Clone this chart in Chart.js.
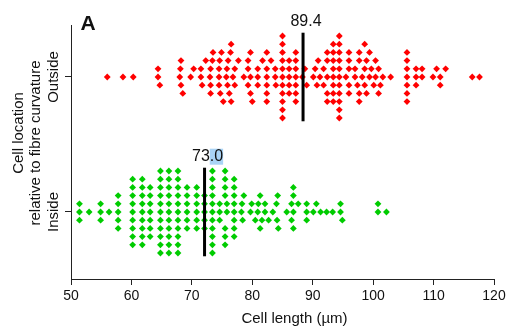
<!DOCTYPE html>
<html>
<head>
<meta charset="utf-8">
<script src="https://cdn.jsdelivr.net/npm/chart.js@4.4.1/dist/chart.umd.min.js"></script>
<style>
  html, body { margin: 0; padding: 0; background: #fff; }
</style>
</head>
<body>
<canvas id="chart" width="532" height="328"></canvas>
<script>
const categories = ["Outside", "Inside"];

const outsideLengths = [
  56.0, 58.6, 60.3,
  64.4, 64.4, 64.7,
  68.0, 68.1, 68.2, 68.2, 68.5,
  69.8, 70.3,
  71.5, 71.5, 71.7, 72.3,
  73.0, 73.1, 73.1, 73.1, 73.4, 73.5,
  74.5, 74.5, 74.5, 74.6, 74.7, 74.9, 75.2,
  75.7, 75.8, 75.9, 76.0, 76.2, 76.4, 76.5, 76.5, 76.8,
  77.1, 77.1, 77.7,
  78.6, 79.3, 79.3, 79.3, 79.7, 79.7, 79.7, 80.0,
  80.9, 80.9, 80.9, 81.7,
  82.4, 82.4, 82.4, 82.4, 82.4, 82.4, 83.1, 83.8, 83.8, 83.9,
  85.0, 85.0, 85.0, 85.0, 85.0, 85.0, 85.0, 85.0, 85.0, 85.0, 85.0,
  86.1, 86.1, 86.1, 86.1, 86.1,
  87.2, 87.2, 87.2, 87.2, 87.2, 87.2, 87.2,
  88.3, 88.7, 89.0,
  90.1, 90.4, 90.7, 90.9, 91.2, 91.8, 91.8,
  92.4, 92.4, 92.4, 92.4, 92.4,
  93.4, 93.4, 93.4, 93.4, 93.4, 93.4, 93.4, 93.4,
  94.4, 94.4, 94.4, 94.4, 94.4, 94.4, 94.4, 94.4, 94.4, 94.4, 94.4,
  95.5, 96.0, 96.0, 96.0, 96.0, 96.0,
  97.0, 97.0, 97.4, 97.7, 97.7, 97.7, 97.7, 98.2,
  98.6, 98.6, 98.6, 98.9, 98.9, 99.4, 99.4, 99.7,
  100.1, 100.4, 100.4, 100.9, 100.9, 101.2, 101.6, 102.9,
  105.6, 105.6, 105.6, 105.6, 105.6, 105.6, 105.6,
  107.1, 107.1, 107.1, 108.1, 108.1,
  109.9, 110.5, 111.1, 111.1, 112.0, 116.4, 117.6
];

const insideLengths = [
  51.4, 51.4, 51.4, 53.0, 54.9, 54.9, 54.9, 56.3,
  57.8, 57.8, 57.8, 57.8, 57.8,
  60.2, 60.2, 60.2, 60.2, 60.2, 60.2, 60.2, 60.2, 60.2,
  61.8, 61.8, 61.8, 61.8, 61.8, 61.8, 61.8, 61.8, 61.8,
  63.1, 63.1, 63.1, 63.1, 63.1, 63.1, 63.1,
  64.8, 64.8, 64.8, 64.8, 64.8, 64.8, 64.8, 64.8, 64.8, 64.8, 64.8,
  66.2, 66.2, 66.2, 66.2, 66.2, 66.2, 66.2, 66.2, 66.2, 66.2, 66.2,
  67.7, 67.7, 67.7, 67.7, 67.7, 67.7, 67.7, 67.7, 67.7, 67.7, 67.7,
  69.2, 69.2, 69.2, 69.2, 69.2, 69.2,
  70.8, 70.8, 70.8, 70.8, 70.8, 70.8,
  72.1, 72.1, 72.1, 72.1, 72.1,
  73.4, 73.4, 73.4, 73.4, 73.4, 73.4, 73.4, 73.4, 73.4, 73.4, 73.4,
  74.6, 74.6, 74.6,
  75.5, 75.5, 75.5, 75.5, 75.5, 75.5, 75.5, 75.8, 75.8,
  77.0, 77.0, 77.0, 77.0, 77.0, 77.0, 77.0, 77.0,
  78.2, 78.3, 78.4, 78.6, 79.7, 79.9,
  80.5, 80.9, 81.0, 81.3, 81.3, 81.6,
  82.1, 82.1, 82.7, 83.4, 84.0, 84.1, 84.2, 84.3,
  85.7, 86.5, 86.5, 86.8, 86.8, 86.8, 86.8, 87.6,
  89.0, 89.0, 89.0, 90.1, 90.6, 91.3, 92.3, 93.3,
  94.6, 94.6, 94.9, 100.8, 100.8, 102.2
];

// Black bars and the numbers printed above them
const markerValues = [88.4, 72.1];
const markerLabels = ["89.4", "73.0"];

const xMin = 50;
const xMax = 120;
const xStep = 10;

const colors = ["#ff0000", "#00cc00"];
const textColor = "#111";
const fontFamily = "'Liberation Sans', Arial, Helvetica, sans-serif";

// y is measured in swarm rows; each category sits on its own centre row
const categoryY = [16.46, 0];
const minGap = 1.0;       // closest two cells may sit in one row (µm)
const barHalf = 5.4;      // half height of the black bar, in rows

// Greedy beeswarm: each cell goes to the nearest free row (0, up, down, ...)
const swarm = (values, centre) => {
  const rows = new Map();
  return [...values].sort((a, b) => a - b).map((v) => {
    for (let k = 0; ; k++) {
      const row = k === 0 ? 0 : (k % 2 === 1 ? (k + 1) / 2 : -k / 2);
      const taken = rows.get(row) || [];
      if (taken.every((x) => Math.abs(x - v) >= minGap)) {
        taken.push(v);
        rows.set(row, taken);
        return { x: v, y: centre + row };
      }
    }
  });
};

const series = [outsideLengths, insideLengths];

const datasets = [];
markerValues.forEach((v, i) => {
  datasets.push({
    type: "line",
    data: [{ x: v, y: categoryY[i] - barHalf }, { x: v, y: categoryY[i] + barHalf }],
    borderColor: "#000",
    borderWidth: 3,
    pointRadius: 0,
    order: 0
  });
});
series.forEach((values, i) => {
  datasets.push({
    type: "scatter",
    data: swarm(values, categoryY[i]),
    pointStyle: "rectRot",
    pointRadius: 3.4,
    borderWidth: 0,
    backgroundColor: colors[i],
    order: 1
  });
});

const textPlugin = {
  id: "texts",
  afterDraw(chart) {
    const { ctx, chartArea, scales } = chart;
    const xs = scales.x;
    const ys = scales.y;
    ctx.save();
    ctx.fillStyle = textColor;
    ctx.textAlign = "center";
    ctx.textBaseline = "middle";

    // panel letter
    ctx.font = `bold 21px ${fontFamily}`;
    ctx.fillText("A", 88, 24);

    // x title
    ctx.font = `15px ${fontFamily}`;
    ctx.fillText("Cell length (\u00b5m)", (chartArea.left + chartArea.right) / 2 + 12, 319);

    // y title (two lines) and category names, all rotated
    const rotated = (text, x, y) => {
      ctx.save();
      ctx.translate(x, y);
      ctx.rotate(-Math.PI / 2);
      ctx.fillText(text, 0, 0);
      ctx.restore();
    };
    ctx.font = `15px ${fontFamily}`;
    rotated("Cell location", 19, 133);
    rotated("relative to fibre curvature", 36, 143);
    categories.forEach((name, i) => rotated(name, 54, ys.getPixelForValue(categoryY[i])));

    // numbers over the black bars
    ctx.font = `16px ${fontFamily}`;
    markerLabels.forEach((label, i) => {
      const x = xs.getPixelForValue(markerValues[i]) + 3;
      const y = ys.getPixelForValue(categoryY[i] + barHalf) - 11;
      if (i === 1) {
        // the ".0" of the lower label is shown selected in the source
        const w = ctx.measureText(label).width;
        const head = ctx.measureText(label.slice(0, 2)).width;
        ctx.fillStyle = "#a9d3f5";
        ctx.fillRect(x - w / 2 + head, y - 8, w - head, 16);
        ctx.fillStyle = textColor;
      }
      ctx.fillText(label, x, y);
    });
    ctx.restore();
  }
};

new Chart(document.getElementById("chart"), {
  data: { datasets },
  options: {
    responsive: false,
    animation: false,
    layout: { padding: { top: 25, right: 38, left: 0, bottom: 0 } },
    plugins: { legend: { display: false }, tooltip: { enabled: false } },
    scales: {
      x: {
        type: "linear",
        min: xMin,
        max: xMax,
        ticks: { stepSize: xStep, color: textColor, font: { size: 14, family: fontFamily }, padding: 3 },
        grid: { drawOnChartArea: false, drawTicks: true, tickLength: 6, color: "#222" },
        border: { color: "#222", width: 1 },
        afterFit: (scale) => { scale.height = 49; }
      },
      y: {
        type: "linear",
        min: -8.17,
        max: 22.8,
        afterBuildTicks: (scale) => { scale.ticks = categoryY.map((v) => ({ value: v })); },
        ticks: { display: false },
        grid: { drawOnChartArea: false, drawTicks: true, tickLength: 6, color: "#222" },
        border: { color: "#222", width: 1 },
        afterFit: (scale) => { scale.width = 71; }
      }
    }
  },
  plugins: [textPlugin]
});
</script>
</body>
</html>
